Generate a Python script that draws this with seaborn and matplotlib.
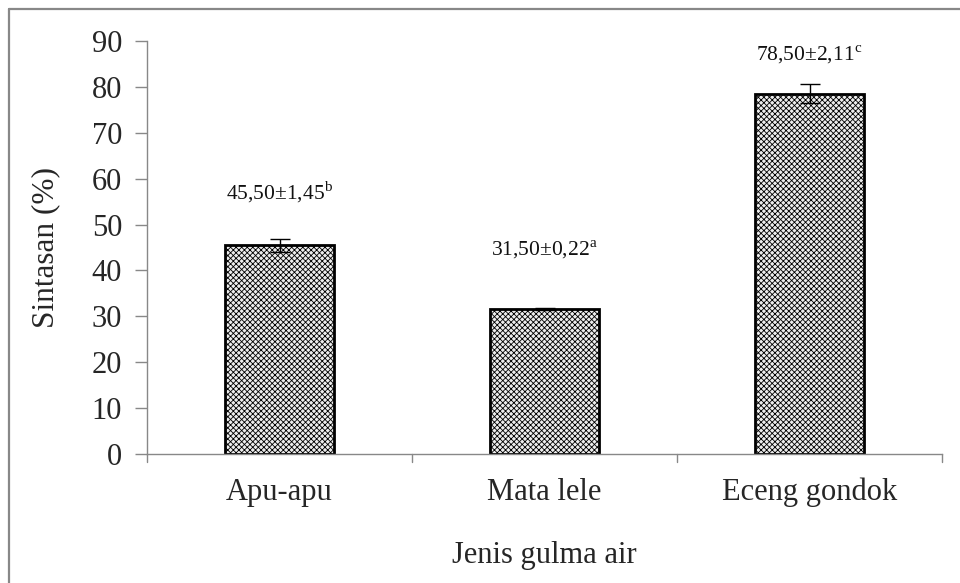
import matplotlib
matplotlib.use("Agg")
import matplotlib.pyplot as plt
import seaborn as sns
import pandas as pd
from matplotlib.lines import Line2D

categories = ["Apu-apu", "Mata lele", "Eceng gondok"]
values = [45.5, 31.5, 78.5]
errors = [1.45, 0.22, 2.11]
labels = ["45,50±1,45$^{\\mathrm{b}}$", "31,50±0,22$^{\\mathrm{a}}$", "78,50±2,11$^{\\mathrm{c}}$"]
yticks = [0, 10, 20, 30, 40, 50, 60, 70, 80, 90]

# layout: vertical offset of each annotation above its bar (axis units)
label_offsets = [11.6, 13.0, 8.4]

sns.set_style("white")
plt.rcParams['font.family'] = ['Liberation Serif', 'DejaVu Serif']
plt.rcParams['mathtext.fontset'] = 'custom'
plt.rcParams['mathtext.rm'] = 'Liberation Serif'
plt.rcParams['hatch.color'] = '#c2c2c2'
plt.rcParams['hatch.linewidth'] = 0.6

df = pd.DataFrame({"cat": categories, "val": values})

fig = plt.figure(figsize=(9.6, 5.83), dpi=100)
ax = fig.add_axes([147/960, 1-454/583, (942-147)/960, (454-41)/583])

sns.barplot(data=df, x="cat", y="val", ax=ax, color="#ededed", width=0.41,
            edgecolor="black", linewidth=2, errorbar=None, hatch="xxxxxx")
ax.errorbar(range(len(categories)), values, yerr=errors, fmt="none",
            ecolor="black", elinewidth=1, capsize=7, capthick=1)

for i, (v, lab, off) in enumerate(zip(values, labels, label_offsets)):
    ax.text(i, v + off, lab, ha="center", va="center", fontsize=15.5, color="#111111")

ax.set_ylim(0, 90)
ax.set_xlim(-0.5, 2.5)
ax.set_yticks(yticks)
ax.set_yticklabels([str(t) for t in yticks], fontsize=22)
ax.set_xticks([0, 1, 2])
ax.set_xticklabels(categories, fontsize=22)
ax.tick_params(axis="x", length=0, pad=17)
ax.tick_params(axis="y", left=True, length=9, width=1, color="#888888", pad=9, direction="out")
for b in [-0.5, 0.5, 1.5, 2.5]:
    ax.plot([b, b], [0, -0.02], transform=ax.get_xaxis_transform(), color="#888888",
            lw=1, clip_on=False)

for s in ["top", "right"]:
    ax.spines[s].set_visible(False)
for s in ["left", "bottom"]:
    ax.spines[s].set_color("#888888")
    ax.spines[s].set_linewidth(1)

ax.set_ylabel("Sintasan (%)", fontsize=22.5)
ax.set_xlabel("Jenis gulma air", fontsize=22)
ax.yaxis.set_label_coords((60 - 147) / (942 - 147), 0.5)
ax.xaxis.set_label_coords(0.5, -(541 - 454) / (454 - 41))

# figure border (left and top)
fig.add_artist(Line2D([9/960, 9/960], [0, 1-9/583], color="#888888", lw=1.6))
fig.add_artist(Line2D([9/960, 1], [1-9/583, 1-9/583], color="#888888", lw=1.6))

fig.savefig("out.png", dpi=100)
